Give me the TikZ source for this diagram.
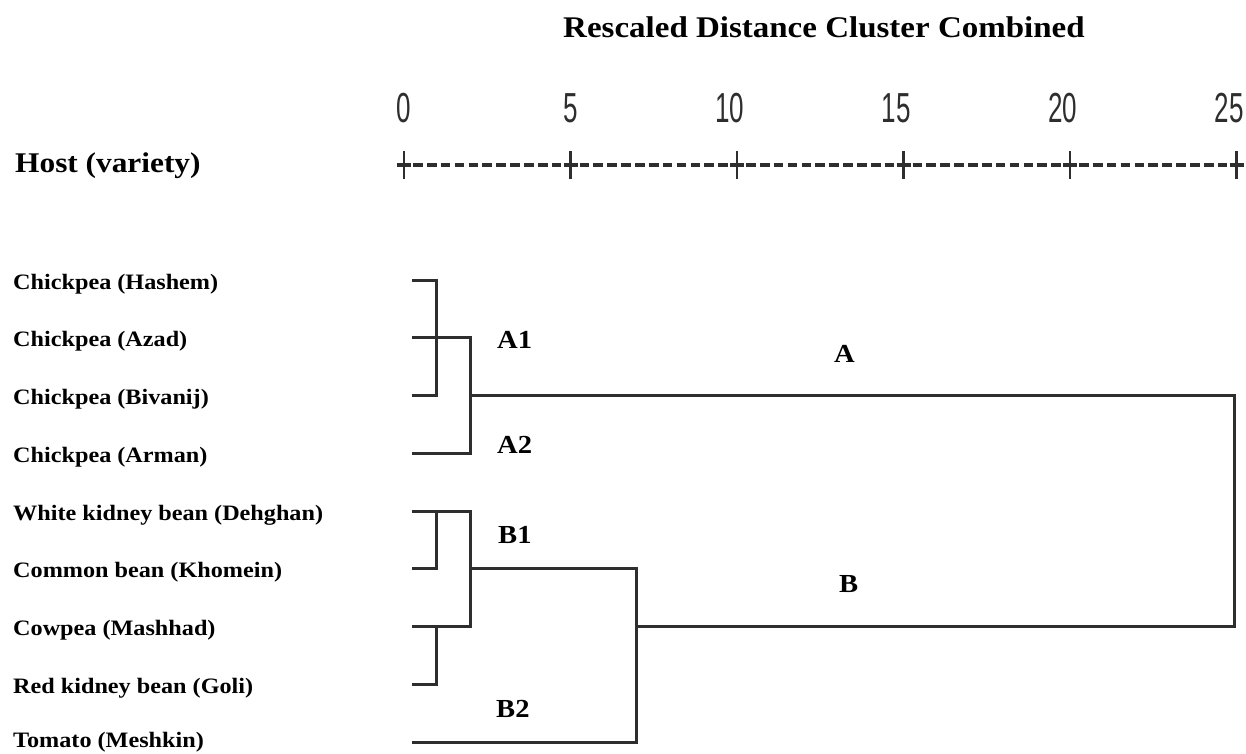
\documentclass[tikz,border=0pt]{standalone}
\usepackage{fontspec}
\newfontfamily\labfont[FakeStretch=1.1]{Liberation Serif}
\newfontfamily\numfont[FakeStretch=0.62]{Liberation Sans}
\definecolor{ink}{HTML}{2E2E2E}
\begin{document}
\begin{tikzpicture}[x=1pt,y=-1pt,
  leaf/.style={anchor=base west,inner sep=0pt,font=\labfont\bfseries\fontsize{22}{24}\selectfont},
  clab/.style={anchor=base west,inner sep=0pt,font=\labfont\bfseries\fontsize{26}{28}\selectfont},
  big/.style={anchor=base west,inner sep=0pt,font=\labfont\bfseries\fontsize{28.5}{30}\selectfont},
  num/.style={anchor=base east,inner sep=0pt,text=ink,font=\numfont\fontsize{42}{44}\selectfont},
  tree/.style={draw=ink,line width=3pt,line cap=rect,line join=miter},
  scl/.style={draw=ink,line width=3.2pt}]
\useasboundingbox (0,0) rectangle (1246,753);
% title and headers
\node[big,font=\labfont\bfseries\fontsize{30}{32}\selectfont] (title) at (563,37) {Rescaled Distance Cluster Combined};
\node[big] (host) at (15,172) {Host (variety)};
% scale
\foreach \v [count=\i from 0] in {0,5,10,15,20,25}{
  \pgfmathsetmacro{\tx}{404+166.5*\i}
  \node[num] (n\i) at (\tx+7.25,122) {\v};
  \coordinate (t\i) at (\tx,165);
  \draw[scl] ([xshift=-7pt]t\i) -- ([xshift=7pt]t\i);
  \draw[scl,line width=2.4pt] ([yshift=-14pt]t\i) -- ([yshift=14pt]t\i);
}
\foreach \i in {0,...,4}{
  \foreach \j in {1,...,11}{
    \draw[scl] ([xshift=\j*13.875pt-4.8pt]t\i) -- ([xshift=\j*13.875pt+4.8pt]t\i);
  }
}
% leaves
\foreach \name/\txt [count=\k from 0] in {
  l1/{Chickpea (Hashem)},
  l2/{Chickpea (Azad)},
  l3/{Chickpea (Bivanij)},
  l4/{Chickpea (Arman)},
  l5/{White kidney bean (Dehghan)},
  l6/{Common bean (Khomein)},
  l7/{Cowpea (Mashhad)},
  l8/{Red kidney bean (Goli)},
  l9/{Tomato (Meshkin)}}{
  \pgfmathsetmacro{\ly}{280+57.75*\k}
  \pgfmathsetmacro{\by}{min(\ly+9,747.5)}
  \node[leaf] (lab\name) at (13,\by) {\txt};
  \coordinate (\name) at (413,\ly);
}
% joints
\coordinate (j13) at (436,280);
\coordinate (j24) at (470,337.75);
\coordinate (jA) at (470,395.5);
\coordinate (jR) at (1234,395.5);
\coordinate (j57) at (470,511);
\coordinate (j56) at (436,511);
\coordinate (j78) at (436,626.5);
\coordinate (jB1) at (470,568.75);
\coordinate (jB) at (636,568.75);
% tree
\draw[tree] (l1) -- (j13) |- (l3);
\draw[tree] (l2) -- (j24) |- (l4);
\draw[tree] (jA) -- (jR) |- (636,626.5);
\draw[tree] (l5) -- (j57) |- (l7);
\draw[tree] (j56) |- (l6);
\draw[tree] (j78) |- (l8);
\draw[tree] (jB1) -- (jB) |- (l9);
% cluster labels
\node[clab] (A1) at (497,348) {A1};
\node[clab] (A2) at (497,453) {A2};
\node[clab] (B1) at (498,543) {B1};
\node[clab] (B2) at (496,717) {B2};
\node[clab] (A) at (834,362) {A};
\node[clab] (B) at (839,592) {B};
\end{tikzpicture}
\end{document}
